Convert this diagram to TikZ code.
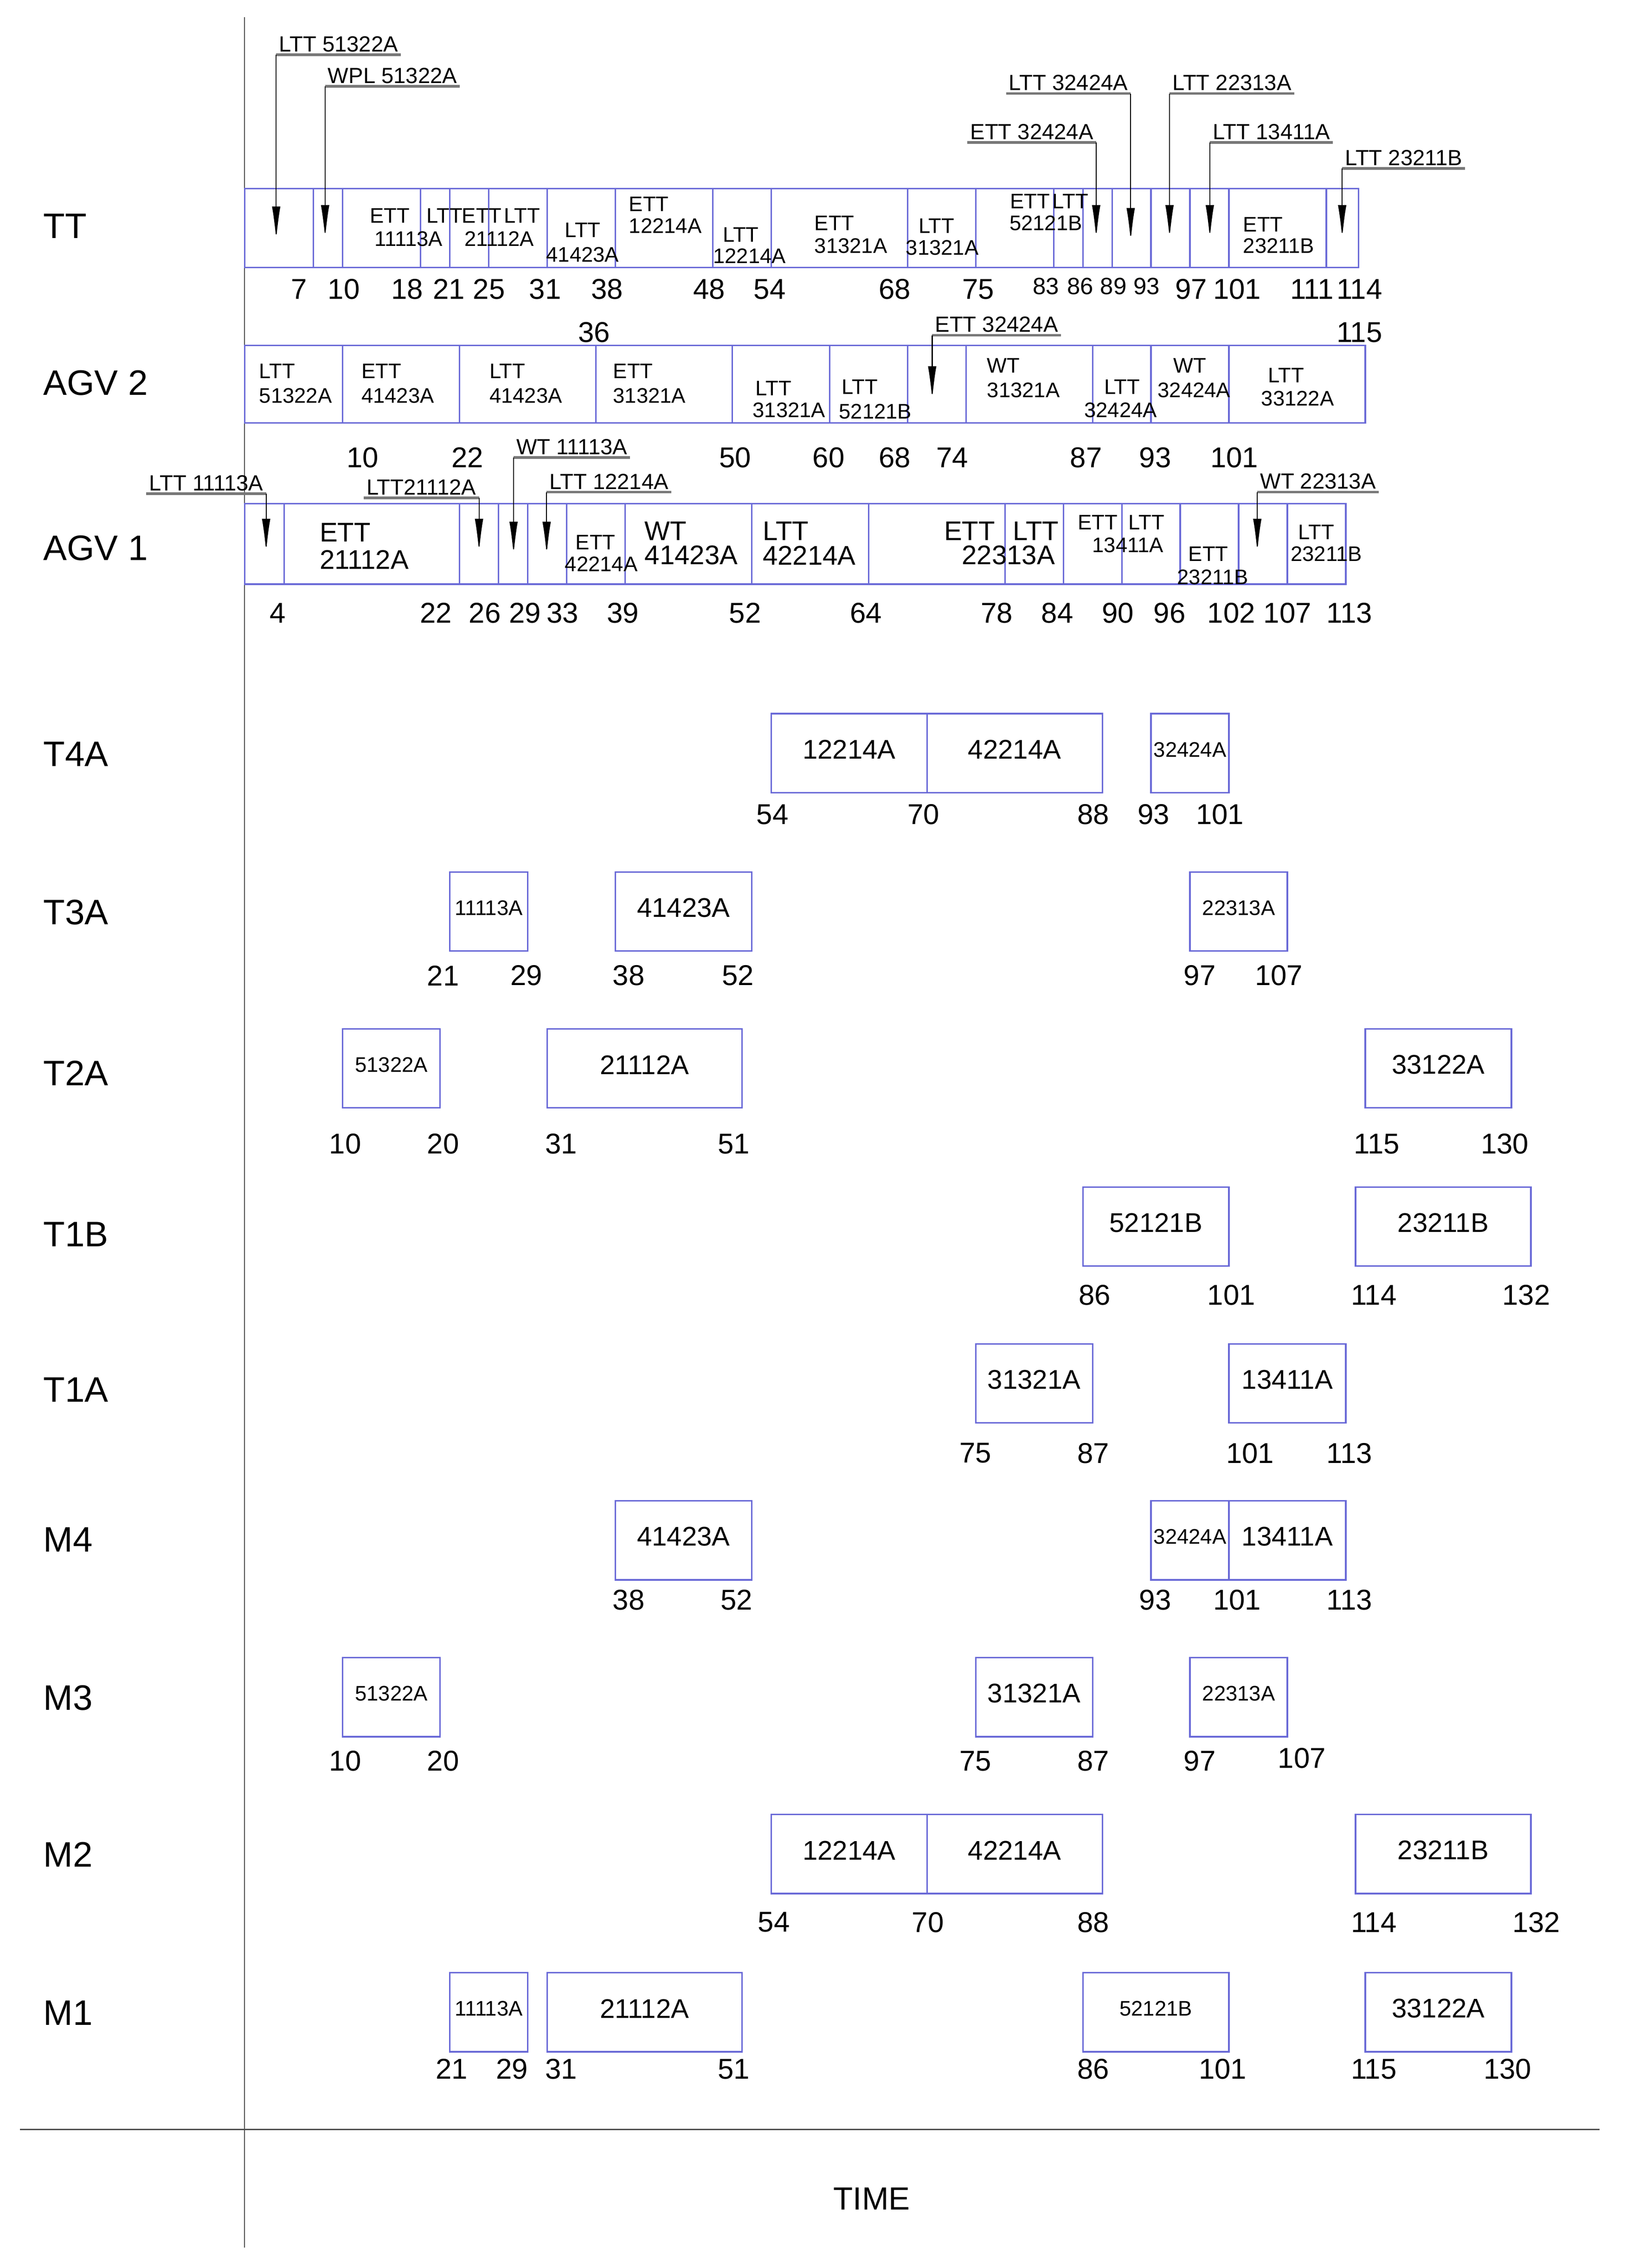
\documentclass[tikz,border=0pt]{standalone}
\usepackage{fontspec}
\setmainfont{Liberation Sans}
\usetikzlibrary{arrows.meta}
\definecolor{boxc}{RGB}{105,105,215}
\definecolor{ulc}{RGB}{120,120,120}
\tikzset{
  declare function={tx(\t)=170.5+6.77*\t;},
  box/.style={draw=boxc,line width=0.9pt},
  rowlab/.style={font=\fontsize{21}{23}\selectfont,anchor=west,inner sep=0},
  num/.style={font=\fontsize{17}{19}\selectfont,inner sep=0},
  snum/.style={font=\fontsize{14}{16}\selectfont,inner sep=0},
  sm/.style={font=\fontsize{12.5}{14}\selectfont,inner sep=0},
  md/.style={font=\fontsize{16}{18}\selectfont,inner sep=0},
  bx/.style={font=\fontsize{16}{18}\selectfont,inner sep=0},
  bxs/.style={font=\fontsize{12.5}{14}\selectfont,inner sep=0},
  tagl/.style={font=\fontsize{13}{15}\selectfont,inner sep=1.5pt,anchor=south west},
  tagr/.style={font=\fontsize{13}{15}\selectfont,inner sep=1.5pt,anchor=south east},
  uline/.style={draw=ulc,line width=1.6pt},
  lead/.style={draw=black,line width=0.6pt,-{Latex[length=20pt,width=5pt]}},
  axis/.style={draw=black!70,line width=0.7pt}
}
\newcommand\gbox[5]{\draw[box] ({tx(#1)},#3) rectangle ({tx(#2)},{#3+55});
  \node[#5] at ({(tx(#1)+tx(#2))/2},{#3+25}) {#4};}
\begin{document}
\begin{tikzpicture}[x=0.03cm,y=-0.03cm]
\useasboundingbox (0,0) rectangle (1130,1576.3);
% axes
\draw[axis] (170,12) -- (170,1562);
\draw[axis] (14,1480) -- (1112,1480);
\node[font=\fontsize{19}{21}\selectfont] (time) at (606,1528) {TIME};
% row labels
\foreach \n/\y in {TT/157,AGV 2/266,AGV 1/381,T4A/524,T3A/634,T2A/746,T1B/858,T1A/966,M4/1070,M3/1180,M2/1289,M1/1399}
  \node[rowlab] at (30,\y) {\n};

% ===== TT =====
\draw[box] (170,131) rectangle ({tx(114.3)},186);
\foreach \t in {7,10,18,21,25,31,38,48,54,68,75,83,86,89,93,97,101,111}
  \draw[box] ({tx(\t)},131) -- ({tx(\t)},186);
\node[sm] at (271,150) {ETT}; \node[sm] at (284,166) {11113A};
\node[sm] at (309,150) {LTT}; \node[sm] at (335,150) {ETT}; \node[sm] at (363,150) {LTT};
\node[sm] at (347,166) {21112A};
\node[sm] at (405,160) {LTT}; \node[sm] at (405,177) {41423A};
\node[sm,anchor=west] at (437,142) {ETT}; \node[sm,anchor=west] at (437,157) {12214A};
\node[sm] at (515,163) {LTT}; \node[sm] at (521,178) {12214A};
\node[sm,anchor=west] at (566,155) {ETT}; \node[sm,anchor=west] at (566,171) {31321A};
\node[sm] at (651,157) {LTT}; \node[sm] at (655,172) {31321A};
\node[sm] at (716,140) {ETT}; \node[sm] at (727,155) {52121B};
\node[sm] at (744,140) {LTT};
\node[sm,anchor=west] at (864,156) {ETT}; \node[sm,anchor=west] at (864,171) {23211B};
% TT numbers
\foreach \x/\v in {208/7,239/10,283/18,312/21,340/25,379/31,422/38,493/48,535/54,622/68,680/75,828/97,860/101,912/111,945/114}
  \node[num] at (\x,201) {\v};
\foreach \x/\v in {727/83,751/86,774/89,797/93}
  \node[snum] at (\x,199) {\v};
\node[num] at (413,231) {36};
\node[num] at (945,231) {115};
% TT leaders
\node[tagl] (l1) at (192,38) {LTT 51322A};
\node[tagl] (l2) at (226,60) {WPL 51322A};
\node[tagr] (l3) at (786,65) {LTT 32424A};
\node[tagr] (l4) at (762,99) {ETT 32424A};
\node[tagl] (l5) at (813,65) {LTT 22313A};
\node[tagl] (l6) at (841,99) {LTT 13411A};
\node[tagl] (l7) at (933,117) {LTT 23211B};
\coordinate (a1) at (192,167); \coordinate (a2) at (226,166);
\coordinate (a3) at (786,168); \coordinate (a4) at (762,166);
\coordinate (a5) at (813,166); \coordinate (a6) at (841,166);
\coordinate (a7) at (933,166);
\foreach \i in {1,2,5,6,7}{
  \draw[uline] (l\i.south west) -- (l\i.south east);
  \draw[lead] (l\i.south west) -- (a\i);}
\foreach \i in {3,4}{
  \draw[uline] (l\i.south west) -- (l\i.south east);
  \draw[lead] (l\i.south east) -- (a\i);}

% ===== AGV 2 =====
\draw[box] (170,240) rectangle ({tx(115)},294);
\foreach \t in {10,22,36,50,60,68,74,87,93,101}
  \draw[box] ({tx(\t)},240) -- ({tx(\t)},294);
\foreach \x/\a/\b in {180/LTT/51322A,251/ETT/41423A,340/LTT/41423A,426/ETT/31321A}{
  \node[sm,anchor=west] at (\x,258) {\a}; \node[sm,anchor=west] at (\x,275) {\b};}
\node[sm,anchor=west] at (525,270) {LTT}; \node[sm,anchor=west] at (523,285) {31321A};
\node[sm,anchor=west] at (585,269) {LTT}; \node[sm,anchor=west] at (583,286) {52121B};
\node[sm,anchor=west] at (686,254) {WT}; \node[sm,anchor=west] at (686,271) {31321A};
\node[sm] at (780,269) {LTT}; \node[sm] at (779,285) {32424A};
\node[sm] at (827,254) {WT}; \node[sm] at (830,271) {32424A};
\node[sm] at (894,261) {LTT}; \node[sm] at (902,277) {33122A};
\foreach \x/\v in {252/10,325/22,511/50,576/60,622/68,662/74,755/87,803/93,858/101}
  \node[num] at (\x,318) {\v};
\node[tagl] (m1) at (648,233) {ETT 32424A};
\coordinate (b1) at (648,278);
\draw[uline] (m1.south west) -- (m1.south east);
\draw[lead] (m1.south west) -- (b1);

% ===== AGV 1 =====
\draw[box] (170,350) rectangle ({tx(113)},406);
\foreach \t in {4,22,26,29,33,39,52,64,78,84,90,96,102,107}
  \draw[box] ({tx(\t)},350) -- ({tx(\t)},406);
\node[md,anchor=west] at (222,370) {ETT}; \node[md,anchor=west] at (222,389) {21112A};
\node[sm] at (414,377) {ETT}; \node[sm] at (418,392) {42214A};
\node[md,anchor=west] at (448,369) {WT}; \node[md,anchor=west] at (448,386) {41423A};
\node[md,anchor=west] at (530,369) {LTT}; \node[md,anchor=west] at (530,386) {42214A};
\node[md] at (674,369) {ETT}; \node[md] at (701,386) {22313A};
\node[md] at (720,369) {LTT};
\node[sm] at (763,363) {ETT}; \node[sm] at (784,379) {13411A};
\node[sm] at (797,363) {LTT};
\node[sm] at (840,385) {ETT}; \node[sm] at (843,401) {23211B};
\node[sm] at (915,370) {LTT}; \node[sm] at (922,385) {23211B};
\foreach \x/\v in {193/4,303/22,337/26,365/29,391/33,433/39,518/52,602/64,693/78,735/84,777/90,813/96,856/102,895/107,938/113}
  \node[num] at (\x,426) {\v};
\node[tagr] (n1) at (185,343) {LTT 11113A};
\node[tagr] (n2) at (333,346) {LTT21112A};
\node[tagl] (n3) at (357,318) {WT 11113A};
\node[tagl] (n4) at (380,342) {LTT 12214A};
\node[tagl] (n5) at (874,342) {WT 22313A};
\coordinate (c1) at (185,384); \coordinate (c2) at (333,384);
\coordinate (c3) at (357,386); \coordinate (c4) at (380,386);
\coordinate (c5) at (874,384);
\foreach \i in {1,2}{
  \draw[uline] (n\i.south west) -- (n\i.south east);
  \draw[lead] (n\i.south east) -- (c\i);}
\foreach \i in {3,4,5}{
  \draw[uline] (n\i.south west) -- (n\i.south east);
  \draw[lead] (n\i.south west) -- (c\i);}

% ===== resource rows =====
% T4A
\gbox{54}{70}{496}{12214A}{bx}\gbox{70}{88}{496}{42214A}{bx}\gbox{93}{101}{496}{32424A}{bxs}
\foreach \x/\v in {537/54,642/70,760/88,802/93,848/101} \node[num] at (\x,566) {\v};
% T3A
\gbox{21}{29}{606}{11113A}{bxs}\gbox{38}{52}{606}{41423A}{bx}\gbox{97}{107}{606}{22313A}{bxs}
\foreach \x/\v in {308/21,366/29,437/38,513/52,834/97,889/107} \node[num] at (\x,678) {\v};
% T2A
\gbox{10}{20}{715}{51322A}{bxs}\gbox{31}{51}{715}{21112A}{bx}\gbox{115}{130}{715}{33122A}{bx}
\foreach \x/\v in {240/10,308/20,390/31,510/51,957/115,1046/130} \node[num] at (\x,795) {\v};
% T1B
\gbox{86}{101}{825}{52121B}{bx}\gbox{114}{132}{825}{23211B}{bx}
\foreach \x/\v in {761/86,856/101,955/114,1061/132} \node[num] at (\x,900) {\v};
% T1A
\gbox{75}{87}{934}{31321A}{bx}\gbox{101}{113}{934}{13411A}{bx}
\foreach \x/\v in {678/75,760/87,869/101,938/113} \node[num] at (\x,1010) {\v};
% M4
\gbox{38}{52}{1043}{41423A}{bx}\gbox{93}{101}{1043}{32424A}{bxs}\gbox{101}{113}{1043}{13411A}{bx}
\foreach \x/\v in {437/38,512/52,803/93,860/101,938/113} \node[num] at (\x,1112) {\v};
% M3
\gbox{10}{20}{1152}{51322A}{bxs}\gbox{75}{87}{1152}{31321A}{bx}\gbox{97}{107}{1152}{22313A}{bxs}
\foreach \x/\v in {240/10,308/20,678/75,760/87,834/97} \node[num] at (\x,1224) {\v};
\node[num] at (905,1222) {107};
% M2
\gbox{54}{70}{1261}{12214A}{bx}\gbox{70}{88}{1261}{42214A}{bx}\gbox{114}{132}{1261}{23211B}{bx}
\foreach \x/\v in {538/54,645/70,760/88,955/114,1068/132} \node[num] at (\x,1336) {\v};
% M1
\gbox{21}{29}{1371}{11113A}{bxs}\gbox{31}{51}{1371}{21112A}{bx}\gbox{86}{101}{1371}{52121B}{bxs}\gbox{115}{130}{1371}{33122A}{bx}
\foreach \x/\v in {314/21,356/29,390/31,510/51,760/86,850/101,955/115,1048/130} \node[num] at (\x,1438) {\v};
\end{tikzpicture}
\end{document}
